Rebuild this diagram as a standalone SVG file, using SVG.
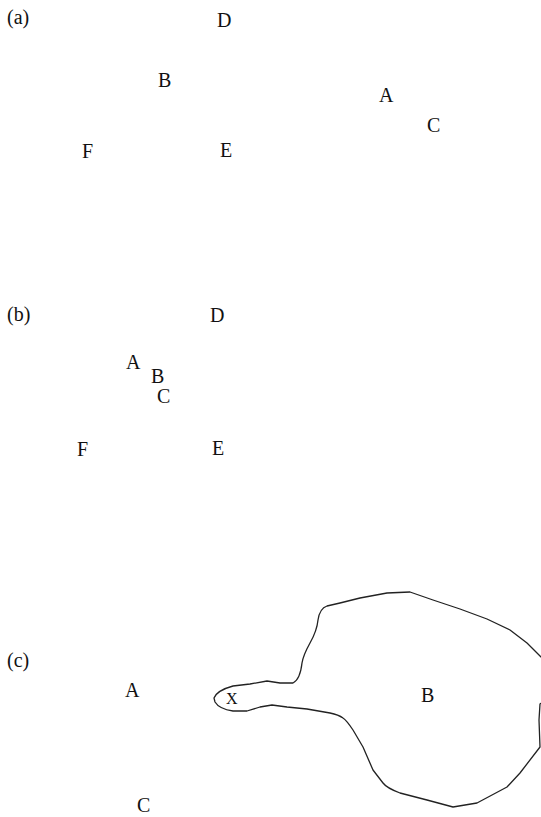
<svg xmlns="http://www.w3.org/2000/svg" width="541" height="817" viewBox="0 0 541 817">
<style>
text{font-family:"Liberation Serif","Times New Roman",serif;font-size:20px;fill:#111}
.sm{font-size:16px}
.blob{fill:none;stroke:#222;stroke-width:1.3;stroke-linejoin:round}
</style>
<rect width="541" height="817" fill="#fff"/>
<g id="panel-a">
<text x="7" y="24">(a)</text>
<g id="a-D"><text x="217" y="27">D</text></g>
<g id="a-B"><text x="158" y="87">B</text></g>
<g id="a-F"><text x="82" y="158">F</text></g>
<g id="a-E"><text x="220" y="157">E</text></g>
<g id="a-A"><text x="379" y="102">A</text></g>
<g id="a-C"><text x="427" y="132">C</text></g>
</g>
<g id="panel-b">
<text x="7" y="321">(b)</text>
<g id="b-D"><text x="210" y="322">D</text></g>
<g id="b-A"><text x="126" y="369">A</text></g>
<g id="b-B"><text x="151" y="383">B</text></g>
<g id="b-C"><text x="157" y="403">C</text></g>
<g id="b-F"><text x="77" y="456">F</text></g>
<g id="b-E"><text x="212" y="455">E</text></g>
</g>
<g id="panel-c">
<text x="7" y="667">(c)</text>
<g id="c-A"><text x="125" y="697">A</text></g>
<g id="c-C"><text x="137" y="812">C</text></g>
<g id="c-B">
<path class="blob" d="M214,698 C216,693 222,689 233,686 L250,684 L267,681 L280,683 L293,683 C299,680 301,672 302,663 C303,657 305,652 310,643 C314,636 317,630 318,620 C319,613 321,608 327,606 L340,603 L360,598 L387,593 L410,592 L433,600 L460,609 L487,619 L510,630 L527,643 L541,657 L546,660 L546,700 L540,704 L539,720 L540,747 L520,773 L507,787 L477,803 L453,807 L427,800 L400,793 C392,790 386,787 383,783 L373,770 L363,747 L353,730 C349,724 346,720 343,718 C339,715 335,714 330,713 L307,709 L287,707 L272,705 L260,707 L247,711 L233,711 C226,710 218,707 215,702 Z"/>
<text x="421" y="702">B</text>
<text class="sm" x="226" y="704">X</text>
</g>
</g>
</svg>
